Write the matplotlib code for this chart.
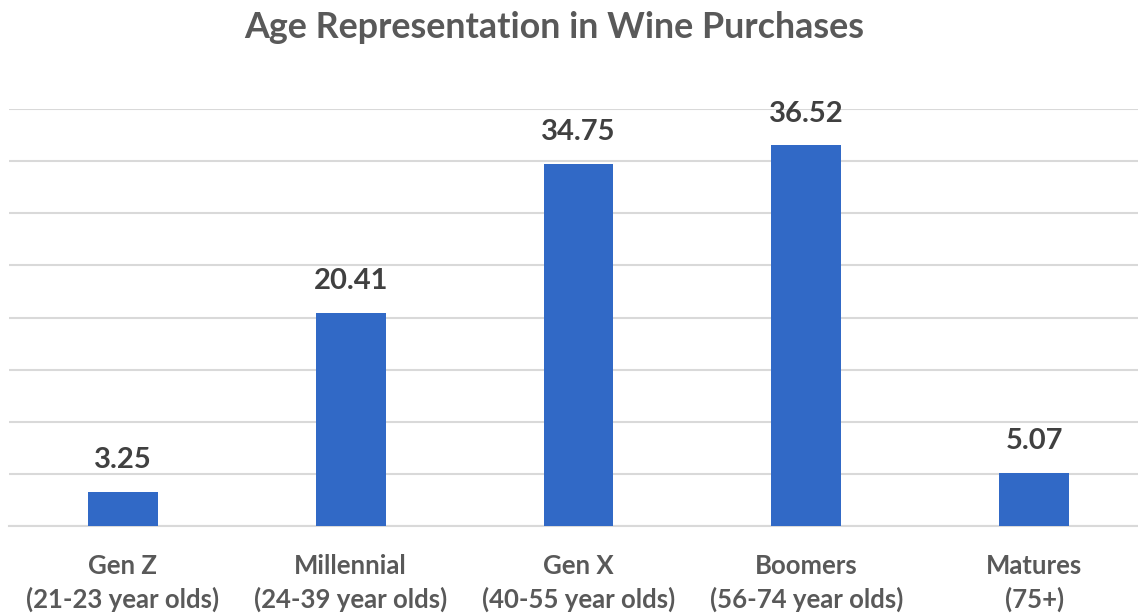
import matplotlib.pyplot as plt

categories = ["Gen Z\n(21-23 year olds)", "Millennial\n(24-39 year olds)", "Gen X\n(40-55 year olds)",
              "Boomers\n(56-74 year olds)", "Matures\n(75+)"]
values = [3.25, 20.41, 34.75, 36.52, 5.07]
value_labels = ["3.25", "20.41", "34.75", "36.52", "5.07"]

plt.rcParams['font.family'] = ['Lato', 'DejaVu Sans']

fig = plt.figure(figsize=(11.38, 6.14), dpi=100)
ax = fig.add_axes([9/1138, 88/614, 1139/1138, 417/614])

x = range(len(values))
bars = ax.bar(x, values, width=0.307, color="#3169C6", zorder=3)

for i, v in enumerate(values):
    ax.text(i, v + 1.8, value_labels[i], ha="center", va="bottom",
            fontsize=21, fontweight="bold", color="#404040")

ax.set_xlim(-0.5, 4.5)
ax.set_ylim(0, 40)
ax.set_yticks(range(0, 41, 5))
ax.set_yticklabels([])
ax.tick_params(axis="y", length=0)
ax.tick_params(axis="x", length=0, pad=20)
ax.set_xticks(list(x))
ax.set_xticklabels(categories, fontsize=18.5, color="#595959", linespacing=1.4,
                   fontweight="bold")
ax.grid(axis="y", color="#D9D9D9", linewidth=1.5, zorder=0)
for s in ["top", "right", "left"]:
    ax.spines[s].set_visible(False)
ax.spines["bottom"].set_color("#D9D9D9")
ax.spines["bottom"].set_linewidth(1.5)

fig.text(0.487, 0.955, "Age Representation in Wine Purchases", ha="center", va="center",
         fontsize=25.8, fontweight="bold", color="#595959")

fig.savefig("out.png", dpi=100)
